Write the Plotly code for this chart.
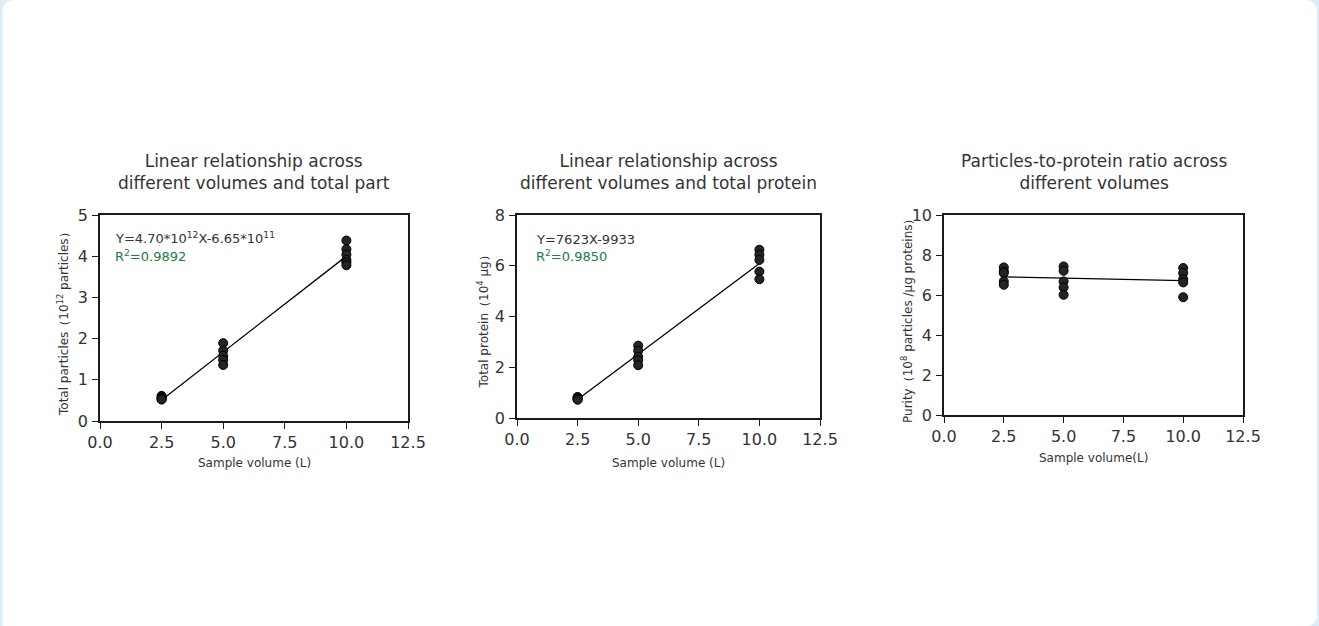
import numpy as np
import plotly.graph_objects as go

W, H = 1319, 626

# ---- data ----
x_p1 = [2.5]*5 + [5]*5 + [10]*6
y_p1 = [0.61, 0.58, 0.55, 0.53, 0.52,
        1.89, 1.71, 1.58, 1.48, 1.36,
        4.38, 4.17, 4.04, 3.91, 3.85, 3.78]

x_p2 = [2.5]*5 + [5]*5 + [10]*5
y_p2 = [0.83, 0.80, 0.77, 0.74, 0.72,
        2.85, 2.65, 2.41, 2.28, 2.08,
        6.63, 6.43, 6.23, 5.77, 5.47]

x_p3 = [2.5]*5 + [5]*5 + [10]*5
y_p3 = [7.38, 7.18, 7.10, 6.68, 6.51,
        7.43, 7.21, 6.68, 6.38, 6.01,
        7.35, 7.10, 6.79, 6.63, 5.89]

titles = ["Linear relationship across<br>different volumes and total part",
          "Linear relationship across<br>different volumes and total protein",
          "Particles-to-protein ratio across<br>different volumes"]
ytitles = ["Total particles（10<sup>12</sup> particles）",
           "Total protein（10<sup>4</sup> μg）",
           "Purity（10<sup>8</sup> particles /μg proteins）"]
xtitles = ["Sample volume (L)", "Sample volume (L)", "Sample volume(L)"]
eqs = ["Y=4.70*10<sup>12</sup>X-6.65*10<sup>11</sup>", "Y=7623X-9933", None]
r2s = ["R<sup>2</sup>=0.9892", "R<sup>2</sup>=0.9850", None]
yranges = [[0, 5], [0, 8], [0, 10]]
ydticks = [1, 2, 2]
xticks = [0, 2.5, 5, 7.5, 10, 12.5]
xticklabels = ["0.0", "2.5", "5.0", "7.5", "10.0", "12.5"]

# ---- layout geometry (pixels) ----
boxes = [(100, 408, 215, 421), (517, 820, 215, 418), (944, 1243, 215, 415)]
ytitle_x = [63, 482, 907]
xtitle_y = [463, 463, 458]
eq_pos = [(113, 238, 256), (534, 239, 256), None]

def px(v):
    return v / W

def py(v):
    return 1 - v / H

FONT = "DejaVu Sans, Noto Sans, sans-serif"
TXT = "#333333"

fig = go.Figure()
data = [(x_p1, y_p1), (x_p2, y_p2), (x_p3, y_p3)]
annotations = []
layout_axes = {}
for i, ((xs, ys), (x0, x1, y0, y1)) in enumerate(zip(data, boxes)):
    n = "" if i == 0 else str(i + 1)
    xa, ya = "x" + n, "y" + n
    # regression line
    k, b = np.polyfit(np.array(xs, float), np.array(ys, float), 1)
    lx = np.array([2.5, 10.0])
    fig.add_trace(go.Scatter(x=lx, y=k * lx + b, mode="lines",
                             line=dict(color="black", width=1.3),
                             xaxis=xa, yaxis=ya, showlegend=False, hoverinfo="skip"))
    fig.add_trace(go.Scatter(x=xs, y=ys, mode="markers",
                             marker=dict(size=9, color="#242424",
                                         line=dict(color="#000000", width=1)),
                             xaxis=xa, yaxis=ya, showlegend=False))
    common = dict(showline=True, mirror=True, linecolor="#1a1a1a", linewidth=1.5,
                  ticks="outside", ticklen=6, tickwidth=1.3, tickcolor="#1a1a1a",
                  showgrid=False, zeroline=False, automargin=False,
                  tickfont=dict(family=FONT, size=16, color=TXT))
    layout_axes["xaxis" + n] = dict(common, domain=[px(x0), px(x1)], range=[0, 12.5],
                                    tickvals=xticks, ticktext=xticklabels,
                                    anchor=ya)
    layout_axes["yaxis" + n] = dict(common, domain=[py(y1), py(y0)], range=yranges[i],
                                    dtick=ydticks[i], tick0=0, anchor=xa, ticklabelstandoff=1)
    cx = (x0 + x1) / 2
    annotations.append(dict(text=titles[i], x=px(cx), y=py(195), xref="paper", yref="paper",
                            xanchor="center", yanchor="bottom", showarrow=False,
                            font=dict(family=FONT, size=17, color=TXT)))
    annotations.append(dict(text=xtitles[i], x=px(cx), y=py(xtitle_y[i]), xref="paper", yref="paper",
                            xanchor="center", yanchor="middle", showarrow=False,
                            font=dict(family=FONT, size=12, color=TXT)))
    annotations.append(dict(text=ytitles[i], x=px(ytitle_x[i]), y=py((y0 + y1) / 2 + 3),
                            xref="paper", yref="paper", textangle=-90,
                            xanchor="center", yanchor="middle", showarrow=False,
                            font=dict(family=FONT, size=12, color=TXT)))
    if eqs[i]:
        ex, ey, ry = eq_pos[i]
        annotations.append(dict(text=eqs[i], x=px(ex), y=py(ey), xref="paper", yref="paper",
                                xanchor="left", yanchor="middle", showarrow=False,
                                font=dict(family=FONT, size=13, color=TXT)))
        annotations.append(dict(text=r2s[i], x=px(ex), y=py(ry), xref="paper", yref="paper",
                                xanchor="left", yanchor="middle", showarrow=False,
                                font=dict(family=FONT, size=13, color="#1e7a45")))

# white rounded card on light-blue page
r = 12
L, R, T, B = 2.5, 1317, 0, 626
card = (f"M {px(L)} {py(T + r)} Q {px(L)} {py(T)} {px(L + r)} {py(T)} "
        f"L {px(R - r)} {py(T)} Q {px(R)} {py(T)} {px(R)} {py(T + r)} "
        f"L {px(R)} {py(B - r)} Q {px(R)} {py(B)} {px(R - r)} {py(B)} "
        f"L {px(L)} {py(B)} Z")
shapes = [dict(type="path", path=card, xref="paper", yref="paper",
               fillcolor="white", line=dict(width=0), layer="below")]

fig.update_layout(template="none", width=W, height=H,
                  margin=dict(l=0, r=0, t=0, b=0, pad=0, autoexpand=False),
                  paper_bgcolor="#dcedfa", plot_bgcolor="rgba(0,0,0,0)",
                  annotations=annotations, shapes=shapes, showlegend=False,
                  **layout_axes)

fig.write_html("out.html", config={"displayModeBar": False},
               post_script="document.body.style.margin='0';document.body.style.overflow='hidden';")
